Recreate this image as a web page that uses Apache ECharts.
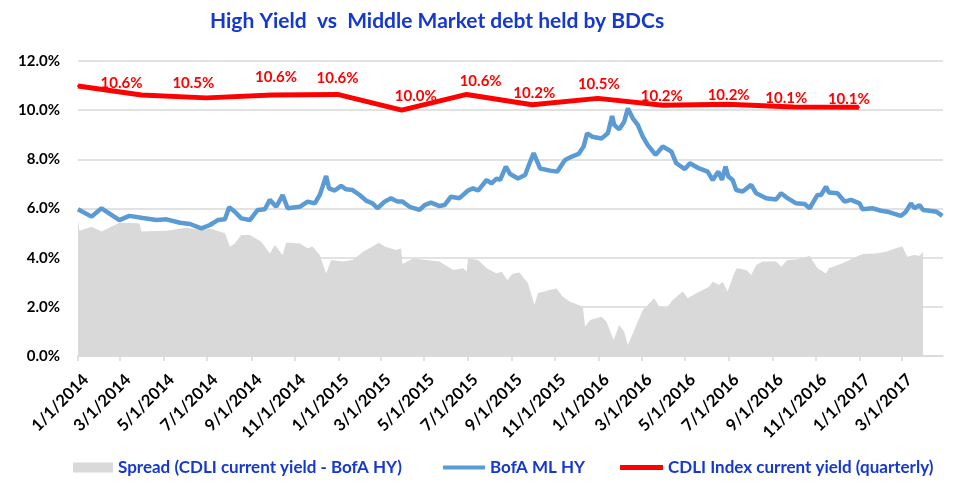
<!DOCTYPE html>
<html>
<head>
<meta charset="utf-8">
<script src="https://cdn.jsdelivr.net/npm/echarts@6/dist/echarts.min.js"></script>
<style>
html,body{margin:0;padding:0;background:#fff;}
#chart{width:975px;height:490px;}
</style>
</head>
<body>
<div id="chart"></div>
<script>
// ---- Data (percent) ----
const titleText = 'High Yield  vs  Middle Market debt held by BDCs';
const seriesNames = ['Spread (CDLI current yield - BofA HY)', 'BofA ML HY', 'CDLI Index current yield (quarterly)'];

const cdliDates = ['2014-01-01','2014-03-31','2014-06-30','2014-09-30','2014-12-31','2015-03-31','2015-06-30','2015-09-30','2015-12-31','2016-03-31','2016-06-30','2016-09-30','2016-12-31'];
const cdliValues = [10.98,10.62,10.50,10.62,10.64,10.00,10.64,10.22,10.48,10.20,10.24,10.13,10.12];

const hyDates = ['2014-01-01','2014-01-20','2014-02-03','2014-02-28','2014-03-14','2014-04-02','2014-04-21','2014-05-05','2014-05-24','2014-06-07','2014-06-23','2014-07-05','2014-07-16','2014-07-26','2014-08-01','2014-08-09','2014-08-18','2014-08-30','2014-09-10','2014-09-20','2014-09-27','2014-10-06','2014-10-15','2014-10-22','2014-11-08','2014-11-19','2014-11-29','2014-12-06','2014-12-10','2014-12-15','2014-12-19','2014-12-27','2015-01-05','2015-01-12','2015-01-21','2015-01-31','2015-02-09','2015-02-18','2015-02-25','2015-03-07','2015-03-16','2015-03-25','2015-04-01','2015-04-11','2015-04-25','2015-05-02','2015-05-11','2015-05-23','2015-05-30','2015-06-08','2015-06-20','2015-07-02','2015-07-09','2015-07-16','2015-07-28','2015-08-04','2015-08-11','2015-08-16','2015-08-24','2015-08-30','2015-09-10','2015-09-20','2015-09-27','2015-10-02','2015-10-11','2015-10-25','2015-11-04','2015-11-15','2015-11-22','2015-12-04','2015-12-11','2015-12-16','2015-12-23','2016-01-05','2016-01-14','2016-01-20','2016-01-23','2016-01-30','2016-02-06','2016-02-11','2016-02-18','2016-02-25','2016-03-03','2016-03-10','2016-03-21','2016-03-31','2016-04-12','2016-04-19','2016-05-01','2016-05-08','2016-05-21','2016-06-02','2016-06-09','2016-06-17','2016-06-22','2016-06-27','2016-07-01','2016-07-07','2016-07-12','2016-07-21','2016-08-02','2016-08-09','2016-08-23','2016-09-06','2016-09-13','2016-09-22','2016-10-04','2016-10-16','2016-10-23','2016-11-03','2016-11-08','2016-11-15','2016-11-19','2016-12-01','2016-12-11','2016-12-20','2017-01-01','2017-01-05','2017-01-19','2017-01-31','2017-02-09','2017-02-28','2017-03-07','2017-03-14','2017-03-19','2017-03-26','2017-03-31','2017-04-09','2017-04-19','2017-04-27'];
const hyValues = [5.97,5.67,6.01,5.53,5.70,5.61,5.53,5.56,5.42,5.37,5.19,5.33,5.53,5.56,6.05,5.87,5.60,5.53,5.94,5.97,6.35,6.07,6.55,6.01,6.07,6.28,6.21,6.55,6.89,7.32,6.82,6.73,6.92,6.78,6.75,6.55,6.32,6.21,6.01,6.28,6.42,6.28,6.28,6.07,5.94,6.14,6.24,6.10,6.14,6.48,6.42,6.73,6.82,6.73,7.16,7.02,7.22,7.16,7.70,7.40,7.22,7.36,7.90,8.25,7.63,7.54,7.50,7.97,8.08,8.22,8.52,9.06,8.92,8.85,9.06,9.76,9.40,9.22,9.53,10.07,9.67,9.40,8.92,8.58,8.18,8.52,8.32,7.84,7.60,7.84,7.63,7.50,7.16,7.50,7.16,7.70,7.30,7.16,6.75,6.69,6.96,6.62,6.42,6.37,6.62,6.42,6.21,6.18,6.01,6.55,6.55,6.89,6.65,6.62,6.28,6.35,6.21,5.97,6.01,5.91,5.87,5.70,5.87,6.21,6.01,6.14,5.94,5.91,5.87,5.70];

const spreadDates = ['2014-01-01','2014-01-03','2014-01-20','2014-02-03','2014-02-28','2014-03-28','2014-03-31','2014-05-05','2014-06-02','2014-06-23','2014-07-05','2014-07-26','2014-08-02','2014-08-09','2014-08-18','2014-08-30','2014-09-15','2014-09-27','2014-10-04','2014-10-15','2014-10-20','2014-11-08','2014-11-19','2014-11-26','2014-12-06','2014-12-15','2014-12-22','2015-01-07','2015-01-21','2015-02-05','2015-02-27','2015-03-07','2015-03-23','2015-03-30','2015-04-01','2015-04-16','2015-05-04','2015-05-23','2015-06-11','2015-06-25','2015-06-30','2015-07-02','2015-07-16','2015-07-28','2015-08-11','2015-08-18','2015-08-26','2015-09-03','2015-09-12','2015-09-24','2015-10-01','2015-10-03','2015-10-08','2015-10-25','2015-11-03','2015-11-12','2015-11-22','2015-12-04','2015-12-10','2015-12-13','2015-12-20','2016-01-05','2016-01-12','2016-01-22','2016-01-30','2016-02-06','2016-02-11','2016-02-18','2016-03-03','2016-03-10','2016-03-19','2016-03-26','2016-04-05','2016-04-14','2016-04-28','2016-05-05','2016-05-17','2016-06-04','2016-06-09','2016-06-18','2016-06-23','2016-06-30','2016-07-09','2016-07-13','2016-07-26','2016-08-02','2016-08-09','2016-08-18','2016-09-06','2016-09-13','2016-09-22','2016-10-04','2016-10-23','2016-11-03','2016-11-15','2016-11-19','2016-12-08','2016-12-18','2017-01-05','2017-01-24','2017-02-07','2017-02-21','2017-03-02','2017-03-09','2017-03-19','2017-03-26','2017-03-31'];
const spreadValues = [5.53,5.10,5.26,5.06,5.42,5.40,5.06,5.10,5.22,5.13,5.19,4.99,4.45,4.58,4.92,4.92,4.65,4.17,4.52,4.11,4.62,4.58,4.38,4.45,4.11,3.36,3.91,3.84,3.91,4.24,4.61,4.45,4.31,4.38,3.74,3.97,3.91,3.84,3.50,3.57,3.43,3.97,3.91,3.57,3.36,3.43,3.09,3.36,3.40,2.96,2.28,2.07,2.55,2.69,2.75,2.41,2.21,2.07,2.01,1.19,1.46,1.60,1.40,0.65,1.26,0.99,0.45,0.92,1.87,2.07,2.35,2.01,1.94,2.28,2.62,2.35,2.55,2.82,3.02,2.89,3.02,2.62,3.36,3.57,3.50,3.30,3.70,3.84,3.84,3.63,3.91,3.93,4.07,3.57,3.36,3.57,3.77,3.91,4.15,4.17,4.24,4.38,4.45,4.04,4.11,4.07,4.24];

const tickDates = ['2014-01-01','2014-03-01','2014-05-01','2014-07-01','2014-09-01','2014-11-01','2015-01-01','2015-03-01','2015-05-01','2015-07-01','2015-09-01','2015-11-01','2016-01-01','2016-03-01','2016-05-01','2016-07-01','2016-09-01','2016-11-01','2017-01-01','2017-03-01'];
const axisMinDate = '2014-01-01';
const axisMaxDate = '2017-04-28';

// ---- Styling helpers (not data) ----
// manual nudges [dx, dy] for the CDLI data labels, as in the original
const cdliLabelNudge = [[0,0],[-20,3],[-13,0],[4,-3],[0,-2],[14,0],[14,1],[2,3],[1,0],[-1,5],[1,5],[-7,6],[-10,6]];
const DAY = 86400000;
const LABEL_SHIFT = 11 * DAY; // Excel places rotated labels slightly right of the tick

const pd = s => echarts.number.parseDate(s).getTime();
const zip = (d, v) => d.map((x, i) => [pd(x), v[i]]);
const tickVals = tickDates.map(pd);
const labelVals = tickVals.map(v => v + LABEL_SHIFT);

const FONT = 'Lato';
const BLUE_TXT = '#1538D0';

const cdliData = cdliDates.map((d, i) => ({
  value: [pd(d), cdliValues[i]],
  label: {offset: cdliLabelNudge[i]}
}));

const chart = echarts.init(document.getElementById('chart'), null, {renderer: 'canvas'});
const legendText = {fontFamily: FONT, fontWeight: 'bold', fontSize: 17, color: BLUE_TXT};
chart.setOption({
  animation: false,
  backgroundColor: '#fff',
  title: {
    text: titleText,
    left: 205, top: 6,
    textStyle: {fontFamily: FONT, fontWeight: 'bold', fontSize: 21, color: BLUE_TXT}
  },
  grid: {left: 78, right: 32, top: 61, bottom: 134, containLabel: false},
  legend: [
    {data: [{name: seriesNames[0], icon: 'rect'}], left: 68, top: 454, itemWidth: 40, itemHeight: 10, textStyle: legendText, selectedMode: false},
    {data: [{name: seriesNames[1], icon: 'rect'}], left: 438, top: 454, itemWidth: 42, itemHeight: 4, textStyle: legendText, selectedMode: false},
    {data: [{name: seriesNames[2], icon: 'rect'}], left: 615, top: 454, itemWidth: 43, itemHeight: 5, textStyle: legendText, selectedMode: false}
  ],
  xAxis: {
    type: 'value',
    min: pd(axisMinDate), max: pd(axisMaxDate),
    axisLine: {show: true, lineStyle: {color: '#D9D9D9', width: 1.5}},
    axisTick: {show: true, customValues: tickVals, length: 5, lineStyle: {color: '#D9D9D9', width: 1.5}},
    splitLine: {show: false},
    axisLabel: {
      customValues: labelVals,
      rotate: 45, margin: 21,
      fontFamily: FONT, fontWeight: 'bold', fontSize: 16.5, color: '#000',
      formatter: v => { const d = new Date(v - LABEL_SHIFT); return (d.getMonth() + 1) + '/' + d.getDate() + '/' + d.getFullYear(); }
    }
  },
  yAxis: {
    type: 'value', min: 0, max: 12, interval: 2,
    axisLine: {show: false}, axisTick: {show: false},
    splitLine: {lineStyle: {color: '#D9D9D9', width: 1.5}},
    axisLabel: {
      margin: 18, fontFamily: FONT, fontWeight: 'bold', fontSize: 15, color: '#000',
      formatter: v => v.toFixed(1) + '%'
    }
  },
  series: [
    {
      name: seriesNames[0], type: 'line', data: zip(spreadDates, spreadValues),
      showSymbol: false, symbol: 'none', smooth: false,
      lineStyle: {width: 0, color: '#D9D9D9'}, itemStyle: {color: '#D9D9D9'},
      areaStyle: {color: '#D9D9D9', opacity: 1}, z: 1
    },
    {
      name: seriesNames[1], type: 'line', data: zip(hyDates, hyValues),
      showSymbol: false, symbol: 'none',
      lineStyle: {width: 4.5, color: '#5B9BD5'}, itemStyle: {color: '#5B9BD5'}, z: 2
    },
    {
      name: seriesNames[2], type: 'line', data: cdliData,
      showSymbol: true, symbol: 'circle', symbolSize: 2,
      lineStyle: {width: 5, color: '#FF0000'}, itemStyle: {color: '#FF0000'}, z: 3,
      label: {
        show: true, position: 'top', distance: 6,
        fontFamily: FONT, fontWeight: 'bold', fontSize: 15, color: '#FF0000',
        formatter: p => p.dataIndex === 0 ? '' : p.value[1].toFixed(1) + '%'
      }
    }
  ]
});
</script>
</body>
</html>
